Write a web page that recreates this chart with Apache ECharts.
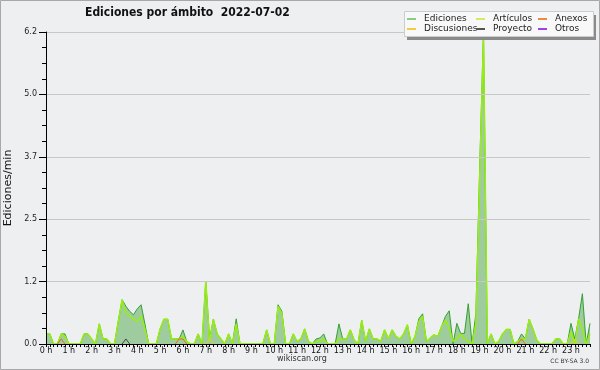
<!DOCTYPE html>
<html><head><meta charset="utf-8">
<script src="https://cdn.jsdelivr.net/npm/echarts@6/dist/echarts.min.js"></script>
<style>html,body{margin:0;padding:0;background:#eeeff1}#c{width:600px;height:370px}</style>
</head><body><div id="c"></div>
<script>
const hourLabels = ['0 h','1 h','2 h','3 h','4 h','5 h','6 h','7 h','8 h','9 h','10 h','11 h','12 h','13 h','14 h','15 h','16 h','17 h','18 h','19 h','20 h','21 h','22 h','23 h'];
const slotsPerHour = 6; // 10-minute slots
const yTicks = [0, 1.24, 2.48, 3.72, 4.96, 6.2];
const yTickLabels = ['0.0','1.2','2.5','3.7','5.0','6.2'];

const ediciones = [
 0.2,0.2,0,0,0.2,0.2,0,0,0,0,
 0.2,0.2,0.1,0,0.4,0.1,0.1,0,0,0.45,
 0.88,0.75,0.65,0.58,0.7,0.78,0.4,0,0,0,
 0.3,0.49,0.49,0.1,0.1,0.1,0.28,0.05,0,0,
 0.2,0,1.25,0.1,0.49,0.2,0.1,0,0.2,0,
 0.5,0,0,0,0,0,0,0,0.28,0,
 0,0.78,0.65,0,0,0.2,0.05,0.1,0.3,0.05,
 0,0.1,0.12,0.2,0,0,0,0.4,0.1,0.1,
 0.28,0.08,0,0.47,0.05,0.3,0.1,0.1,0.05,0.28,
 0.1,0.28,0.15,0.1,0.2,0.38,0,0.15,0.5,0.6,
 0.05,0.12,0.18,0.15,0.35,0.55,0.66,0,0.41,0.21,
 0.21,0.8,0,0.6,3.5,6.2,0,0.2,0,0.05,
 0.2,0.29,0.29,0,0.05,0.2,0.1,0.49,0.3,0.08,
 0,0,0,0,0.1,0.1,0,0,0.41,0.1,
 0.5,1.0,0,0.41
];
const articulos = [
 0.2,0.2,0,0,0.2,0.15,0,0,0,0,
 0.2,0.2,0.1,0,0.4,0.1,0.1,0,0,0.45,
 0.88,0.62,0.55,0.5,0.45,0.55,0.3,0,0,0,
 0.3,0.49,0.49,0.1,0.1,0.1,0.15,0.05,0,0,
 0.2,0,1.25,0.05,0.49,0.2,0.1,0,0.2,0,
 0.4,0,0,0,0,0,0,0,0.28,0,
 0,0.75,0.6,0,0,0.2,0.05,0.1,0.3,0.05,
 0,0.05,0.05,0.1,0,0,0,0.1,0.1,0.1,
 0.28,0.08,0,0.47,0.05,0.3,0.1,0.1,0.05,0.28,
 0.1,0.28,0.15,0.1,0.2,0.38,0,0.15,0.45,0.55,
 0.05,0.12,0.18,0.15,0.35,0.48,0.3,0.05,0.1,0.2,
 0.1,0.05,0,0.4,3.3,6.1,0,0.2,0,0.05,
 0.2,0.29,0.29,0,0.05,0.1,0.1,0.49,0.3,0.08,
 0,0,0,0,0.1,0.1,0,0,0.25,0,
 0.5,0.3,0,0.2
];
const anexos = [
 0,0,0,0,0.1,0,0,0,0,0, 0,0,0,0,0,0,0,0,0,0, 0,0,0,0,0,0,0,0,0,0,
 0,0,0,0,0,0.1,0.1,0,0,0, 0,0,0,0,0,0,0,0,0,0, 0,0,0,0,0,0,0,0,0,0,
 0,0,0,0,0,0,0,0,0,0, 0,0,0,0,0,0,0,0,0,0, 0,0,0,0,0,0,0,0,0,0,
 0,0,0,0,0,0,0,0,0,0, 0,0,0,0,0,0,0,0,0,0, 0,0,0,0,0,0,0,0,0,0,
 0,0,0,0,0,0.1,0,0,0,0, 0,0,0,0,0,0,0,0,0,0, 0,0,0,0
];
const discusiones = [
 0,0,0,0,0,0,0,0,0,0, 0,0,0,0,0,0,0,0,0,0, 0,0,0,0,0,0,0,0,0,0,
 0,0,0,0,0,0,0,0,0,0, 0,0,0,0.1,0,0,0,0,0,0, 0,0,0,0,0,0,0,0,0,0,
 0,0,0,0,0,0,0,0,0,0, 0,0,0,0,0,0,0,0,0,0, 0,0,0,0,0,0,0,0,0,0,
 0,0,0,0,0,0,0,0,0,0, 0,0,0,0,0,0,0,0,0,0, 0,0,0,0,0,0,0,0,0,0,
 0,0,0,0,0,0,0,0,0,0, 0,0,0,0,0,0,0,0,0,0.1, 0,0,0,0
];
const proyecto = [
 0,0,0,0,0,0,0,0,0,0, 0,0,0,0,0,0,0,0,0,0, 0,0.1,0,0,0,0,0,0,0,0,
 0,0,0,0,0,0,0,0,0,0, 0,0,0,0,0,0,0,0,0,0, 0,0,0,0,0,0,0,0,0,0,
 0,0,0,0,0,0,0,0,0,0, 0,0,0,0,0,0,0,0,0,0, 0,0,0,0,0,0,0,0,0,0,
 0,0,0,0,0,0,0,0,0,0, 0,0,0,0,0,0,0,0,0,0, 0,0,0,0,0,0,0,0,0,0,
 0,0,0,0,0,0,0,0,0,0, 0,0,0,0,0,0,0,0,0,0, 0,0,0,0
];
const otros = new Array(144).fill(0);

// categories: one per 10-minute slot, labelled on the hour
const categories = [];
hourLabels.forEach(h => { for (let i = 0; i < slotsPerHour; i++) categories.push(i === 0 ? h : ''); });

// hide flat zero runs of the small series (only keep zeros adjacent to a value)
function trimZeros(arr) {
  return arr.map((v, i) => (v !== 0 || arr[i-1] > 0 || arr[i+1] > 0) ? v : null);
}

const FONT = 'DejaVu Sans';
const chart = echarts.init(document.getElementById('c'), null, {renderer: 'canvas'});
const legendBase = {orient: 'vertical', top: 14, padding: 0, itemWidth: 9, itemHeight: 2, itemGap: 0, icon: 'rect',
  textStyle: {fontFamily: FONT, fontSize: 9, color: '#222', lineHeight: 10, padding: [0,0,0,3]}};
const colors = {Ediciones:'#88cc88', 'Artículos':'#ccee66', Anexos:'#ee8844', Discusiones:'#eecc44', Proyecto:'#555555', Otros:'#9944ee'};
const ld = n => ({name: n, itemStyle: {color: colors[n]}});

chart.setOption({
  animation: false,
  backgroundColor: '#eeeff1',
  title: {text: 'Ediciones por ámbito  2022-07-02', left: 85, top: 7, padding: 0,
    textStyle: {fontFamily: 'DejaVu Sans Condensed', fontWeight: 'bold', fontSize: 12, color: '#111'}},
  graphic: [
    {type: 'rect', shape: {x: 0.5, y: 0.5, width: 599, height: 369}, style: {fill: 'none', stroke: '#a8a8a8'}, z: 100},
    {type: 'rect', shape: {x: 407, y: 15, width: 189, height: 25}, style: {fill: '#8a8a8a'}, z: 50},
    {type: 'rect', shape: {x: 404.5, y: 11.5, width: 189, height: 25}, style: {fill: '#f8f8f8', stroke: '#cccccc'}, z: 51},
    {type: 'text', left: 277, top: 355, style: {text: 'wikiscan.org', font: '8px "DejaVu Sans"', fill: '#333'}, z: 60},
    {type: 'text', right: 11, top: 358, style: {text: 'CC BY-SA 3.0', font: '6px "DejaVu Sans"', fill: '#333'}, z: 60}
  ],
  legend: [
    Object.assign({}, legendBase, {left: 407, data: [ld('Ediciones'), ld('Discusiones')], z: 60}),
    Object.assign({}, legendBase, {left: 476, data: [ld('Artículos'), ld('Proyecto')], z: 60}),
    Object.assign({}, legendBase, {left: 538, data: [ld('Anexos'), ld('Otros')], z: 60})
  ],
  grid: {left: 46, right: 10, top: 32, bottom: 26, show: true, backgroundColor: '#eeeff1', borderWidth: 0,
    containLabel: false, outerBoundsMode: 'none'},
  xAxis: {
    type: 'category', data: categories, boundaryGap: false, z: 10,
    axisLine: {lineStyle: {color: '#000', width: 1}},
    axisTick: {interval: 0, length: 3, lineStyle: {color: '#000'}},
    axisLabel: {interval: 0, margin: 3, fontFamily: FONT, fontSize: 8, color: '#111',
      alignMinLabel: 'center', alignMaxLabel: 'center', formatter: v => v},
    splitLine: {show: false}
  },
  yAxis: {
    type: 'value', min: yTicks[0], max: yTicks[yTicks.length-1], interval: yTicks[1] - yTicks[0], z: 10,
    name: 'Ediciones/min', nameLocation: 'middle', nameGap: 28, nameRotate: 90,
    nameTextStyle: {fontFamily: FONT, fontSize: 11, color: '#111'},
    axisLine: {show: true, lineStyle: {color: '#000'}},
    axisTick: {show: true, length: 7, lineStyle: {color: '#000'}},
    minorTick: {show: true, splitNumber: 4, length: 4, lineStyle: {color: '#000'}},
    axisLabel: {margin: 9, fontFamily: FONT, fontSize: 8, color: '#222',
      formatter: v => { const i = yTicks.findIndex(t => Math.abs(t - v) < 1e-6); return i >= 0 ? yTickLabels[i] : ''; }},
    splitLine: {show: true, lineStyle: {color: '#c8c8c8', width: 1}}
  },
  series: [
    {name: 'Ediciones', type: 'line', data: ediciones, showSymbol: false, z: 2,
      lineStyle: {color: '#33a033', width: 1}, itemStyle: {color: '#88cc88'},
      areaStyle: {color: '#9fcc9f', opacity: 1}},
    {name: 'Artículos', type: 'line', data: articulos, showSymbol: false, z: 4,
      lineStyle: {color: '#99ee11', width: 1.5}, itemStyle: {color: '#ccee66'}},
    {name: 'Anexos', type: 'line', data: trimZeros(anexos), showSymbol: false, z: 5,
      lineStyle: {color: '#ee6622', width: 1}, itemStyle: {color: '#ee8844'}},
    {name: 'Discusiones', type: 'line', data: trimZeros(discusiones), showSymbol: false, z: 5,
      lineStyle: {color: '#eecc22', width: 1}, itemStyle: {color: '#eecc44'}},
    {name: 'Proyecto', type: 'line', data: trimZeros(proyecto), showSymbol: false, z: 5,
      lineStyle: {color: '#444444', width: 1}, itemStyle: {color: '#555555'}},
    {name: 'Otros', type: 'line', data: trimZeros(otros), showSymbol: false, z: 5,
      lineStyle: {color: '#9944ee', width: 1}, itemStyle: {color: '#9944ee'}}
  ]
});
</script></body></html>
